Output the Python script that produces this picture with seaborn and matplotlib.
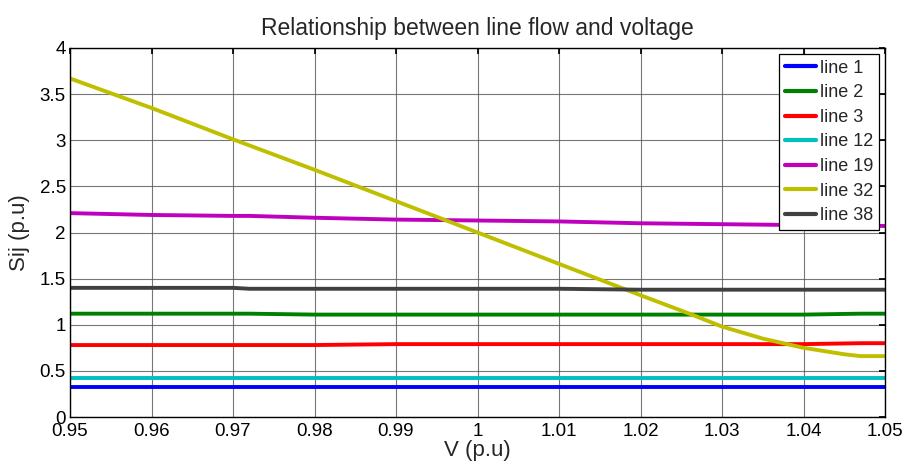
import matplotlib
matplotlib.use("Agg")
import matplotlib.pyplot as plt
import seaborn as sns
import pandas as pd
import numpy as np

# ---- data ----
v_flat = [0.95, 0.96, 0.97, 0.972, 0.98, 0.99, 1.00, 1.01, 1.02, 1.03, 1.04, 1.047, 1.05]
line1 = [0.33, 0.33, 0.33, 0.33, 0.33, 0.33, 0.33, 0.33, 0.33, 0.33, 0.33, 0.33, 0.33]
line2 = [1.12, 1.12, 1.12, 1.12, 1.11, 1.11, 1.11, 1.11, 1.11, 1.11, 1.11, 1.12, 1.12]
line3 = [0.78, 0.78, 0.78, 0.78, 0.78, 0.79, 0.79, 0.79, 0.79, 0.79, 0.79, 0.80, 0.80]
line12 = [0.42, 0.42, 0.42, 0.42, 0.42, 0.42, 0.42, 0.42, 0.42, 0.42, 0.42, 0.42, 0.42]
line19 = [2.21, 2.19, 2.18, 2.18, 2.16, 2.14, 2.13, 2.12, 2.10, 2.09, 2.08, 2.08, 2.07]
line38 = [1.40, 1.40, 1.40, 1.39, 1.39, 1.39, 1.39, 1.39, 1.38, 1.38, 1.38, 1.38, 1.38]

v_32 = [0.95, 0.96, 0.97, 0.98, 0.99, 1.00, 1.01, 1.02, 1.026, 1.03, 1.035, 1.04, 1.045, 1.047, 1.05]
line32 = [3.67, 3.35, 3.01, 2.68, 2.34, 2.00, 1.66, 1.32, 1.12, 0.98, 0.85, 0.75, 0.68, 0.66, 0.66]

labels = ["line 1", "line 2", "line 3", "line 12", "line 19", "line 32", "line 38"]
colors = ["#0000ff", "#008000", "#ff0000", "#00bfbf", "#bf00bf", "#bfbf00", "#404040"]

series = {
    "line 1": (v_flat, line1),
    "line 2": (v_flat, line2),
    "line 3": (v_flat, line3),
    "line 12": (v_flat, line12),
    "line 19": (v_flat, line19),
    "line 32": (v_32, line32),
    "line 38": (v_flat, line38),
}

rows = []
for name in labels:
    xs, ys = series[name]
    for x, y in zip(xs, ys):
        rows.append({"V": x, "S": y, "line": name})
df = pd.DataFrame(rows)

sns.set_theme(style="white")
plt.rcParams["font.family"] = ["Liberation Sans", "DejaVu Sans"]

fig = plt.figure(figsize=(9.06, 4.66), dpi=100)
ax = fig.add_axes([70 / 906, 1 - 417 / 466, (885 - 70) / 906, (417 - 48) / 466])

sns.lineplot(data=df, x="V", y="S", hue="line", hue_order=labels,
             palette=dict(zip(labels, colors)), estimator=None, sort=False,
             linewidth=2.8, ax=ax)

ax.set_xlim(0.95, 1.05)
ax.set_ylim(0, 4)
xt = [0.95, 0.96, 0.97, 0.98, 0.99, 1.00, 1.01, 1.02, 1.03, 1.04, 1.05]
xtl = ["0.95", "0.96", "0.97", "0.98", "0.99", "1", "1.01", "1.02", "1.03", "1.04", "1.05"]
ax.set_xticks(xt)
ax.set_xticklabels(xtl)
yt = [0, 0.5, 1, 1.5, 2, 2.5, 3, 3.5, 4]
ax.set_yticks(yt)
ax.set_yticklabels(["0", "0.5", "1", "1.5", "2", "2.5", "3", "3.5", "4"])
ax.grid(True, color="#555555", linewidth=0.8, linestyle="-", alpha=0.8)
ax.set_axisbelow(True)
for s in ax.spines.values():
    s.set_color("black")
    s.set_linewidth(1.0)
ax.tick_params(axis="both", direction="in", length=4, top=True, right=True,
               labelsize=13.5, colors="black")
ax.tick_params(axis="y", pad=3)
ax.tick_params(axis="x", pad=4)
ax.set_xlabel("V (p.u)", fontsize=16, labelpad=0)
ax.set_ylabel("Sij (p.u)", fontsize=16, labelpad=7)
ax.set_title("Relationship between line flow and voltage", fontsize=16.5, pad=9)

leg = ax.legend(loc="upper right", fontsize=13, frameon=True, fancybox=False,
                edgecolor="black", framealpha=1, handlelength=1.75,
                handletextpad=0.2, labelspacing=0.42, borderaxespad=0.35,
                borderpad=0.3)
leg.get_frame().set_linewidth(0.9)
for h in leg.get_lines():
    h.set_linewidth(3)

fig.savefig("out.png", dpi=100)
